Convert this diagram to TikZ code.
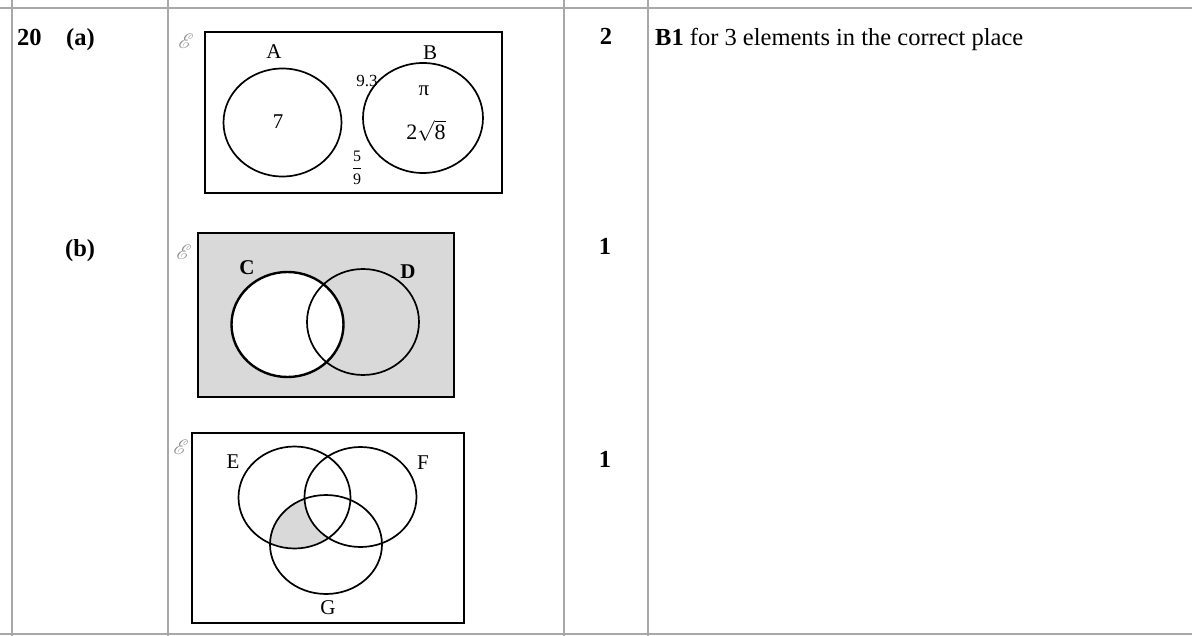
\documentclass[tikz,border=0pt]{standalone}
\usepackage{amsmath}
\usepackage{fontspec}
\setmainfont{Liberation Serif}
\usepackage{mathrsfs}
\definecolor{ruleGrey}{HTML}{A8A8A8}
\definecolor{shadeGrey}{HTML}{D9D9D9}
\definecolor{univGrey}{HTML}{909090}
\newcommand{\FigBody}{\fontsize{24.5}{28}\selectfont}
\newcommand{\FigVenn}{\fontsize{21}{24}\selectfont}
\newcommand{\FigSmall}{\fontsize{17}{20}\selectfont}
\newcommand{\Univ}{$\mathscr{E}$}

\begin{document}
\begin{tikzpicture}[
  x=1pt, y=-1pt,
  font=\FigVenn,
  rule/.style  = {draw=ruleGrey, line width=2pt},
  frame/.style = {draw=black, line width=2pt},
  ring/.style  = {draw=black, line width=1.7pt},
  lbl/.style   = {inner sep=0pt},
  univ/.style  = {inner sep=0pt, font=\fontsize{22}{24}\selectfont, text=univGrey},
  score/.style = {inner sep=0pt, anchor=base, font=\FigBody\bfseries},
]
\useasboundingbox (0,0) rectangle (1192,636);

% ---------------------------------------------------------------- table rules
\draw[rule] (0,8) -- (1192,8);
\draw[rule] (0,634) -- (1192,634);
\foreach \x in {12,168,564,648} {
  \draw[rule] (\x,0) -- (\x,636);
}

% ---------------------------------------------------------------- question column
\node[lbl, anchor=base west, font=\FigBody\bfseries] (qnum)  at (17,46)  {20};
\node[lbl, anchor=base west, font=\FigBody\bfseries] (parta) at (66,46)  {(a)};
\node[lbl, anchor=base west, font=\FigBody\bfseries] (partb) at (65,257) {(b)};

% ---------------------------------------------------------------- marks and notes
\node[score] (marka)  at (606,45)  {2};
\node[score] (markb1) at (605,255) {1};
\node[score] (markb2) at (605,467) {1};
\node[lbl, anchor=base west, font=\FigBody] (notea) at (655,46)
  {\textbf{B1} for 3 elements in the correct place};

% ---------------------------------------------------------------- (a) placing elements
\draw[frame] (205,32) rectangle (502,193);
\draw[ring] (282.5,122.5) ellipse [x radius=59, y radius=54];
\draw[ring] (423,118) ellipse [x radius=60, y radius=55];
\node[univ] (univa) at (186,41)  {\Univ};
\node[lbl]  (setA)  at (274,52)  {A};
\node[lbl]  (setB)  at (430,53)  {B};
\node[lbl]  (seven) at (278,122) {7};
\node[lbl, font=\FigSmall] (ninethree) at (367,81) {9.3};
\node[lbl]  (piel)  at (424,91)  {π};
\node[lbl, font=\fontsize{22}{26}\selectfont] (rootel) at (426,131)
  {$\text{2}\sqrt{\text{8}}$};
\node[lbl, font=\fontsize{16}{18}\selectfont] (fracel) at (357,168)
  {$\dfrac{\text{5}}{\text{9}}$};

% ---------------------------------------------------------------- (b) first shading
\fill[shadeGrey] (198,233) rectangle (454,397);
\fill[white] (287.5,324.5) ellipse [x radius=56, y radius=52.5];
\draw[ring] (363,322) ellipse [x radius=56, y radius=53];
\draw[ring, line width=2.4pt] (287.5,324.5) ellipse [x radius=56, y radius=52.5];
\draw[frame] (198,233) rectangle (454,397);
\node[univ] (univb) at (184,252) {\Univ};
\node[lbl, font=\FigVenn\bfseries] (setC) at (247,268) {C};
\node[lbl, font=\FigVenn\bfseries] (setD) at (408,272) {D};

% ---------------------------------------------------------------- (b) second shading
\begin{scope}
  \clip (294.5,497.5) ellipse [x radius=56, y radius=51];
  \clip (326,544.5) ellipse [x radius=56, y radius=49.5];
  \fill[shadeGrey] (192,433) rectangle (464,623);
  \fill[white] (360.5,497) ellipse [x radius=56, y radius=50];
\end{scope}
\draw[ring] (294.5,497.5) ellipse [x radius=56, y radius=51];
\draw[ring] (360.5,497) ellipse [x radius=56, y radius=50];
\draw[ring] (326,544.5) ellipse [x radius=56, y radius=49.5];
\draw[frame] (192,433) rectangle (464,623);
\node[univ] (univc) at (181,447) {\Univ};
\node[lbl]  (setE)  at (233,462) {E};
\node[lbl]  (setF)  at (423,463) {F};
\node[lbl]  (setG)  at (328,608) {G};

\end{tikzpicture}
\end{document}
